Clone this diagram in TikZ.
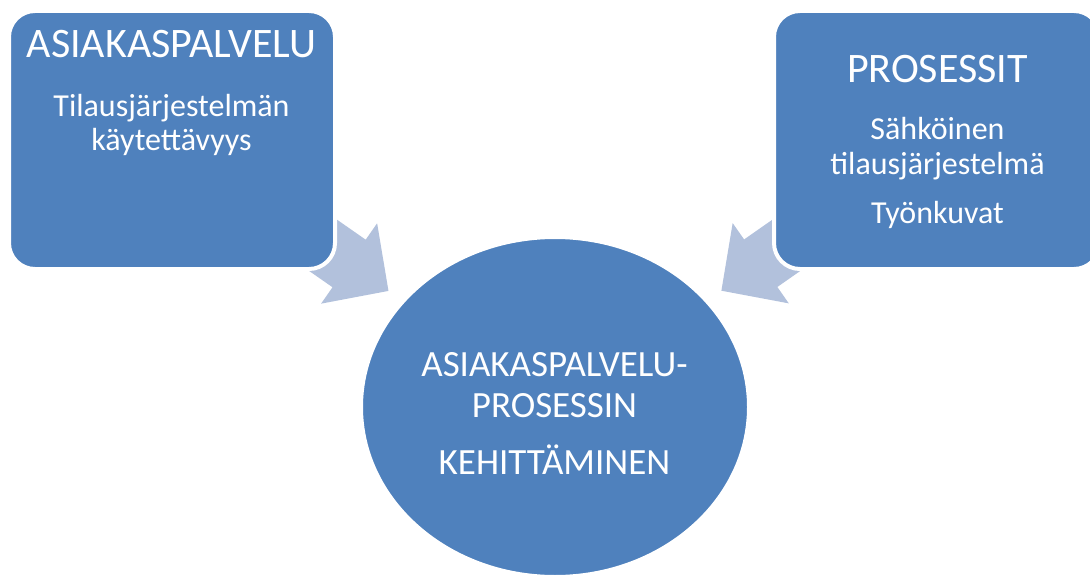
\documentclass[tikz,border=0pt]{standalone}
\usepackage{fontspec}
\setmainfont{Carlito}
\usetikzlibrary{calc,shapes.geometric}
\definecolor{boxblue}{HTML}{4F81BD}
\definecolor{arrowblue}{HTML}{B2C1DC}
\pgfdeclarelayer{background}
\pgfsetlayers{background,main}
\begin{document}
\begin{tikzpicture}[x=1pt,y=-1pt,
  panel/.style={draw=white, line width=4pt, fill=boxblue, rounded corners=26pt,
    minimum width=326pt, minimum height=258pt, inner sep=0pt},
  hub/.style={ellipse, draw=white, line width=4pt, fill=boxblue,
    minimum width=388pt, minimum height=340pt, inner sep=0pt},
  label/.style={text=white, inner sep=0pt, anchor=base},
  big/.style={label, font=\fontsize{42}{42}\selectfont},
  mid/.style={label, font=\fontsize{37}{37}\selectfont},
  small/.style={label, font=\fontsize{32}{32}\selectfont},
  flow/.style={fill=arrowblue, draw=none}]
\useasboundingbox (0,0) rectangle (1090,575);

% the three shapes
\node[panel] (lbox) at (172,140) {};
\node[panel] (rbox) at (937,140) {};
\node[hub]   (ell)  at (555,407) {};

% left panel
\node[big]   (ltitle) at (171.5,58)  {ASIAKASPALVELU};
\node[small] (lline1) at (171.5,117) {Tilausjärjestelmän};
\node[small] (lline2) at (171.5,150) {käytettävyys};

% right panel
\node[big]   (rtitle) at (937.5,83)  {PROSESSIT};
\node[small] (rline1) at (937.5,140) {Sähköinen};
\node[small] (rline2) at (937.5,175) {tilausjärjestelmä};
\node[small] (rline3) at (937.5,223) {Työnkuvat};

% centre
\node[mid] (cline1) at (554.5,376) {ASIAKASPALVELU-};
\node[mid] (cline2) at (554.5,417) {PROSESSIN};
\node[mid] (cline3) at (554.5,474) {KEHITTÄMINEN};

% block arrows from the panels towards the centre, behind the panels
\begin{pgfonlayer}{background}
  \foreach \src/\tag in {lbox/l, rbox/r}{
    \coordinate (\tag tip)  at ($(ell.center)!203pt!(\src.center)$);
    \coordinate (\tag base) at ($(\tag tip)!48pt!(\src.center)$);
    \coordinate (\tag tail) at ($(\tag tip)!140pt!(\src.center)$);
    \fill[flow] (\tag tip)
      -- ($(\tag base)!49pt!90:(\tag tip)$)
      -- ($(\tag base)!29pt!90:(\tag tip)$)
      -- ($(\tag tail)!29pt!-90:(\src.center)$)
      -- ($(\tag tail)!29pt!90:(\src.center)$)
      -- ($(\tag base)!29pt!-90:(\tag tip)$)
      -- ($(\tag base)!49pt!-90:(\tag tip)$)
      -- cycle;
  }
\end{pgfonlayer}
\end{tikzpicture}
\end{document}
